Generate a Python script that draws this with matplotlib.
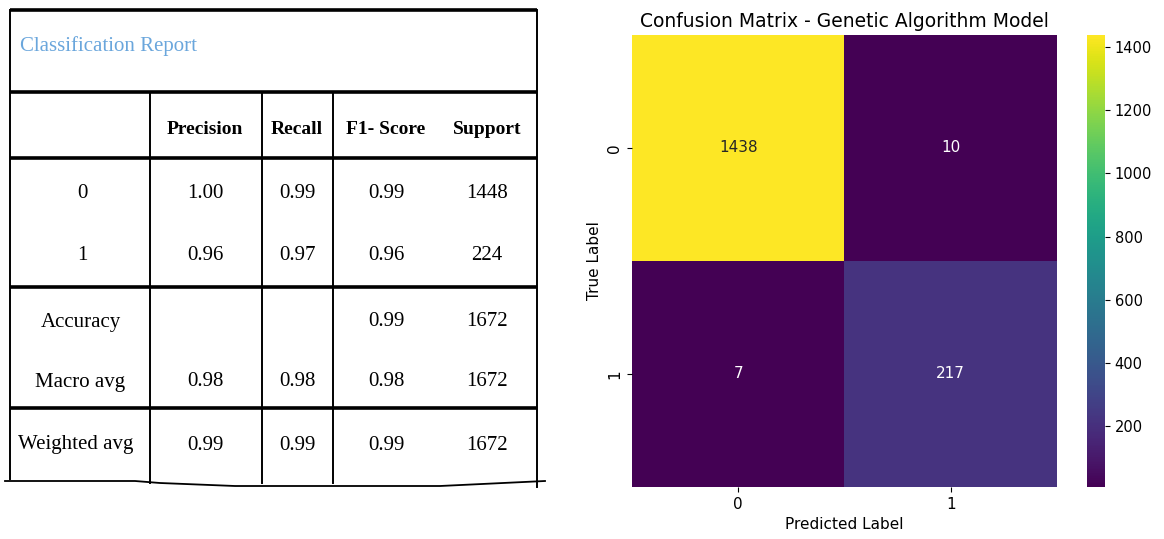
import numpy as np
import matplotlib.pyplot as plt
import seaborn as sns

# Classification report values
row_names = ['0', '1', 'Accuracy', 'Macro avg', 'Weighted avg']
precision = [1.00, 0.96, None, 0.98, 0.99]
recall = [0.99, 0.97, None, 0.98, 0.99]
f1_score = [0.99, 0.96, 0.99, 0.98, 0.99]
support = [1448, 224, 1672, 1672, 1672]
headers = ['Precision', 'Recall', 'F1- Score', 'Support']

# Confusion matrix
class_labels = ['0', '1']
cm = np.array([[1438, 10],
               [7, 217]])

fig = plt.figure(figsize=(11.64, 5.39), dpi=100)

# ---- left: report table drawn in pixel coordinates ----
tab = fig.add_axes([0, 0, 1, 1])
tab.set_xlim(0, 1164)
tab.set_ylim(539, 0)
tab.axis('off')

serif = 'Liberation Serif'
x_left, x_right = 10, 537
col_lines = [150, 262, 333]
thick_rows = [10, 92, 158, 287, 408]
y_bottom = 479

for y in thick_rows:
    tab.plot([x_left, x_right], [y, y], color='black', lw=2.6, solid_capstyle='butt')
tab.plot([5, 135, 160, 235, 440, 545], [481, 481, 483, 486, 486, 481], color='black', lw=1.3)
tab.plot([x_left, x_left], [10, y_bottom], color='black', lw=1.4)
tab.plot([x_right, x_right], [10, 487], color='black', lw=1.4)
for x in col_lines:
    tab.plot([x, x], [92, y_bottom + 4], color='black', lw=1.4)

tab.text(20, 46, 'Classification Report', fontsize=15, family=serif,
         color='#6aa6dc', ha='left', va='center')

col_x = [205, 297, 386, 487]
for x, h in zip(col_x, headers):
    tab.text(x, 129, h, fontsize=14, family=serif, fontweight='bold',
             ha='center', va='center')

row_y = [193, 255, 322, 382, 445]
label_x = [82, 82, 81, 80, 76]
for i, name in enumerate(row_names):
    y = row_y[i]
    tab.text(label_x[i], y, name, fontsize=15, family=serif, ha='center', va='center')
    vals = [precision[i], recall[i], f1_score[i]]
    for x, v in zip(col_x[:3], vals):
        if v is not None:
            tab.text(x, y, f'{v:.2f}', fontsize=15, family=serif, ha='center', va='center')
    tab.text(col_x[3], y, str(support[i]), fontsize=15, family=serif, ha='center', va='center')

# ---- right: confusion matrix heatmap ----
ax = fig.add_axes([632 / 1164, 1 - 487 / 539, 425 / 1164, 452 / 539])
cax = fig.add_axes([1087 / 1164, 1 - 487 / 539, 18 / 1164, 452 / 539])
sns.heatmap(cm, annot=True, fmt='d', cmap='viridis', ax=ax, cbar_ax=cax,
            xticklabels=class_labels, yticklabels=class_labels,
            annot_kws={'fontsize': 11})
ax.set_title('Confusion Matrix - Genetic Algorithm Model', fontsize=13.5)
ax.set_xlabel('Predicted Label', fontsize=11)
ax.set_ylabel('True Label', fontsize=11)
ax.tick_params(labelsize=11)
ax.set_yticklabels(class_labels, rotation=90, va='center')
cax.tick_params(labelsize=10.5)

fig.savefig('out.png', dpi=100)
